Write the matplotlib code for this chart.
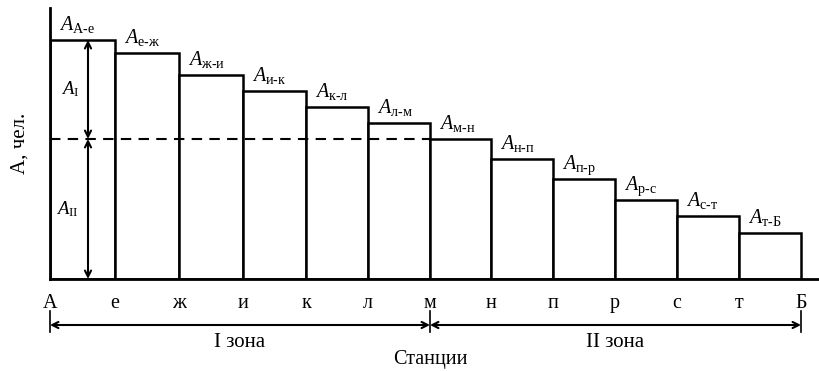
import numpy as np
import matplotlib
matplotlib.use('Agg')
import matplotlib.pyplot as plt

plt.rcParams['font.family'] = ['Liberation Serif', 'DejaVu Serif']
plt.rcParams['mathtext.fontset'] = 'custom'
plt.rcParams['mathtext.rm'] = 'Liberation Serif'
plt.rcParams['mathtext.it'] = 'Liberation Serif:italic'
plt.rcParams['mathtext.bf'] = 'Liberation Serif:bold'

# stations along the line and their positions
stations = ['А', 'е', 'ж', 'и', 'к', 'л', 'м', 'н', 'п', 'р', 'с', 'т', 'Б']
station_pos = [0, 65, 129, 193, 256, 318, 380, 441, 503, 565, 627, 689, 751]
# passenger flow on each section (relative units)
passengers = [239, 226, 204, 188, 172, 156, 140, 120, 100, 79, 63, 46]
split_level = 140
split_station = 6
zone_names = ['I зона', 'II зона']

section_names = [stations[i] + '-' + stations[i + 1] for i in range(len(stations) - 1)]

fig = plt.figure(figsize=(8.19, 3.71), dpi=100)
ax = fig.add_axes([50 / 819, 92 / 371, 769 / 819, 271 / 371])
ax.set_xlim(0, 769)
ax.set_ylim(0, 271)

left = np.array(station_pos[:-1])
widths = np.diff(station_pos)
ax.bar(left, passengers, width=widths, align='edge', color='white',
       edgecolor='black', linewidth=1.8, zorder=2)

for x0, h, name in zip(left, passengers, section_names):
    ax.text(x0 + 9, h + 10, r'$A_{\text{' + name + '}}$', fontsize=14.5,
            va='baseline', ha='left')

# split of the flow into two zones
ax.plot([0, station_pos[split_station]], [split_level, split_level],
        color='black', linestyle=(0, (5, 3.5)), linewidth=1.5, zorder=3)

arrow = dict(arrowstyle='<->', lw=1.5, color='black', shrinkA=0, shrinkB=0,
             mutation_scale=11)
ax.annotate('', xy=(38, split_level), xytext=(38, passengers[0]), arrowprops=arrow)
ax.annotate('', xy=(38, 0), xytext=(38, split_level), arrowprops=arrow)
ax.text(11, (passengers[0] + split_level) / 2, r'$A_{\mathrm{I}}$', fontsize=13.5,
        va='center', ha='left')
ax.text(6, split_level / 2, r'$A_{\mathrm{II}}$', fontsize=13.5,
        va='center', ha='left')

for s in ['top', 'right']:
    ax.spines[s].set_visible(False)
for s in ['left', 'bottom']:
    ax.spines[s].set_linewidth(2)
    ax.spines[s].set_zorder(4)
ax.set_xticks([])
ax.set_yticks([])

for name, x in zip(stations, station_pos):
    ax.text(x, -29, name, fontsize=14.5, ha='center', va='baseline', clip_on=False)

bounds = [station_pos[0], station_pos[split_station], station_pos[-1]]
for x in bounds:
    ax.plot([x, x], [-32, -53], color='black', lw=1.2, clip_on=False)
for i, zname in enumerate(zone_names):
    ax.annotate('', xy=(bounds[i + 1], -46), xytext=(bounds[i], -46),
                arrowprops=dict(arrowstyle='<->', lw=1.5, color='black',
                                shrinkA=0, shrinkB=0, mutation_scale=11),
                annotation_clip=False)
    ax.text((bounds[i] + bounds[i + 1]) / 2, -68, zname, fontsize=15,
            ha='center', va='baseline', clip_on=False)

ax.text(station_pos[split_station], -85, 'Станции', fontsize=14.5,
        ha='center', va='baseline', clip_on=False)
ax.text(-30, 136, 'А, чел.', fontsize=15, rotation=90, ha='center',
        va='center', clip_on=False)

fig.savefig('out.png', dpi=100)
